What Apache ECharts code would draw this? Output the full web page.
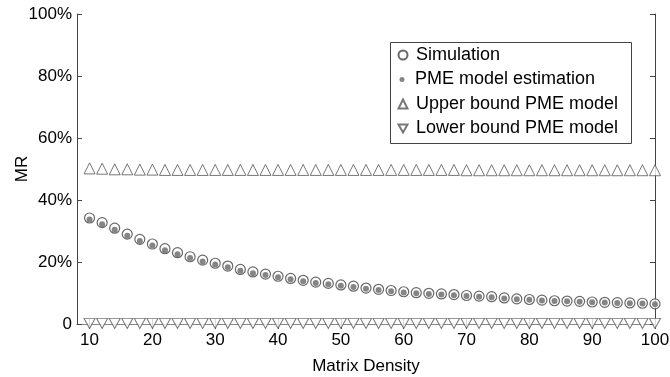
<!DOCTYPE html>
<html>
<head>
<meta charset="utf-8">
<script src="https://cdn.jsdelivr.net/npm/echarts@6/dist/echarts.min.js"></script>
<style>
  html, body { margin: 0; padding: 0; background: #fff; }
  #chart { width: 670px; height: 377px; }
</style>
</head>
<body>
<div id="chart"></div>
<script>
// matrix density (x)
const density = [10, 12, 14, 16, 18, 20, 22, 24, 26, 28, 30, 32, 34, 36, 38, 40, 42, 44, 46, 48,
  50, 52, 54, 56, 58, 60, 62, 64, 66, 68, 70, 72, 74, 76, 78, 80, 82, 84, 86, 88,
  90, 92, 94, 96, 98, 100]

// MR in percent
const simulation = [34.2, 32.7, 30.9, 29.0, 27.3, 25.8, 24.3, 23.0, 21.7, 20.6, 19.6, 18.7, 17.6, 16.8,
  16.1, 15.4, 14.7, 14.1, 13.5, 13.1, 12.6, 12.2, 11.6, 11.2, 10.8, 10.4, 10.1, 9.9, 9.7, 9.5,
  9.2, 9.0, 8.8, 8.4, 8.1, 7.9, 7.7, 7.5, 7.4, 7.3, 7.1, 7.0, 6.9, 6.8, 6.7, 6.5]
const pmeEstimation = [33.7, 32.2, 30.4, 28.5, 26.8, 25.3, 23.8, 22.5, 21.3, 20.2, 19.2, 18.3, 17.2, 16.4,
  15.8, 15.1, 14.4, 13.8, 13.2, 12.8, 12.3, 11.9, 11.4, 11.0, 10.6, 10.2, 9.9, 9.7, 9.5, 9.3,
  9.0, 8.8, 8.6, 8.2, 8.0, 7.8, 7.6, 7.4, 7.3, 7.2, 7.0, 6.9, 6.8, 6.7, 6.6, 6.4]
const upperBound = [50.2, 50.1, 49.9, 49.9, 49.8, 49.8, 49.7, 49.7, 49.7, 49.7, 49.7, 49.7, 49.7, 49.7,
  49.7, 49.7, 49.7, 49.7, 49.7, 49.7, 49.7, 49.7, 49.7, 49.7, 49.7, 49.7, 49.7, 49.7, 49.7, 49.7,
  49.6, 49.6, 49.6, 49.6, 49.6, 49.6, 49.6, 49.6, 49.6, 49.6, 49.6, 49.6, 49.6, 49.6, 49.6, 49.6]
const lowerBound = [0.2, 0.2, 0.2, 0.2, 0.2, 0.2, 0.2, 0.2, 0.2, 0.2, 0.2, 0.2, 0.2, 0.2,
  0.2, 0.2, 0.2, 0.2, 0.2, 0.2, 0.2, 0.2, 0.2, 0.2, 0.2, 0.2, 0.2, 0.2, 0.2, 0.2,
  0.2, 0.2, 0.2, 0.2, 0.2, 0.2, 0.2, 0.2, 0.2, 0.2, 0.2, 0.2, 0.2, 0.2, 0.2, 0.2]

const xTicks = [10, 20, 30, 40, 50, 60, 70, 80, 90, 100]
const seriesNames = ['Simulation', 'PME model estimation', 'Upper bound PME model', 'Lower bound PME model']

const FONT = 'Liberation Sans, Arial, sans-serif'
const downTriangle = 'path://M0,0 L10,0 L5,9 Z'

const pairs = (ys) => density.map((x, i) => [x, ys[i]])

const chart = echarts.init(document.getElementById('chart'), null, { renderer: 'canvas' })

// one legend per row so each icon can have its own size
function legendRow(name, top, size, icon) {
  return {
    data: [{ name: name, icon: icon }],
    left: 402 - size / 2,
    top: top,
    orient: 'vertical',
    itemWidth: size,
    itemHeight: size,
    padding: 0,
    selectedMode: false,
    textStyle: { fontFamily: FONT, fontSize: 18, color: '#000', padding: [0, 0, 0, 8 - size / 2] },
  }
}

const option = {
  animation: false,
  backgroundColor: '#fff',
  grid: { left: 77, right: 15, top: 14, bottom: 53, outerBoundsMode: 'none', containLabel: false },
  legend: [
    legendRow(seriesNames[0], 46, 9, 'circle'),
    legendRow(seriesNames[1], 70.5, 5, 'circle'),
    legendRow(seriesNames[2], 95, 9, 'triangle'),
    legendRow(seriesNames[3], 119.5, 9, downTriangle),
  ],
  graphic: [
    {
      type: 'rect',
      left: 390, top: 42,
      shape: { width: 241, height: 101 },
      style: { fill: 'rgba(255,255,255,0)', stroke: '#444', lineWidth: 1 },
      z: 1,
    },
  ],
  xAxis: [
    {
      type: 'value',
      min: 8,
      max: 100,
      name: 'Matrix Density',
      nameLocation: 'middle',
      nameGap: 34,
      nameMoveOverlap: false,
      nameTextStyle: { fontFamily: FONT, fontSize: 17, color: '#000' },
      axisLine: { show: true, lineStyle: { color: '#888', width: 1 } },
      axisTick: { show: true, inside: true, length: 5, customValues: xTicks, lineStyle: { color: '#444' } },
      axisLabel: { customValues: xTicks, fontFamily: FONT, fontSize: 17, color: '#000', margin: 8 },
      splitLine: { show: false },
    },
    {
      type: 'value',
      position: 'top',
      min: 8,
      max: 100,
      axisLine: { show: true, lineStyle: { color: '#888', width: 1 } },
      axisTick: { show: true, inside: true, length: 5, customValues: xTicks, lineStyle: { color: '#444' } },
      axisLabel: { show: false },
      splitLine: { show: false },
    },
  ],
  yAxis: [
    {
      type: 'value',
      min: 0,
      max: 100,
      interval: 20,
      name: 'MR',
      nameLocation: 'middle',
      nameGap: 46,
      nameMoveOverlap: false,
      nameTextStyle: { fontFamily: FONT, fontSize: 17, color: '#000' },
      axisLine: { show: true, lineStyle: { color: '#444', width: 1 } },
      axisTick: { show: true, inside: true, length: 5, lineStyle: { color: '#444' } },
      axisLabel: {
        fontFamily: FONT, fontSize: 17, color: '#000', margin: 5,
        formatter: (v) => (v === 0 ? '0' : v + '%'),
      },
      splitLine: { show: false },
    },
    {
      type: 'value',
      position: 'right',
      min: 0,
      max: 100,
      interval: 20,
      axisLine: { show: true, lineStyle: { color: '#444', width: 1 } },
      axisTick: { show: true, inside: true, length: 5, lineStyle: { color: '#444' } },
      axisLabel: { show: false },
      splitLine: { show: false },
    },
  ],
  series: [
    {
      name: seriesNames[0],
      type: 'scatter',
      symbol: 'circle',
      symbolSize: 10,
      clip: false,
      itemStyle: { color: '#fff', borderColor: '#444', borderWidth: 1.2 },
      data: pairs(simulation),
    },
    {
      name: seriesNames[1],
      type: 'scatter',
      symbol: 'circle',
      symbolSize: 6,
      clip: false,
      itemStyle: { color: '#666' },
      data: pairs(pmeEstimation),
    },
    {
      name: seriesNames[2],
      type: 'scatter',
      symbol: 'triangle',
      symbolSize: [11, 11],
      clip: false,
      itemStyle: { color: '#fff', borderColor: '#555', borderWidth: 1 },
      data: pairs(upperBound),
    },
    {
      name: seriesNames[3],
      type: 'scatter',
      symbol: downTriangle,
      symbolSize: [11, 10],
      clip: false,
      itemStyle: { color: '#fff', borderColor: '#555', borderWidth: 1 },
      data: pairs(lowerBound),
    },
  ],
}

chart.setOption(option)
</script>
</body>
</html>
